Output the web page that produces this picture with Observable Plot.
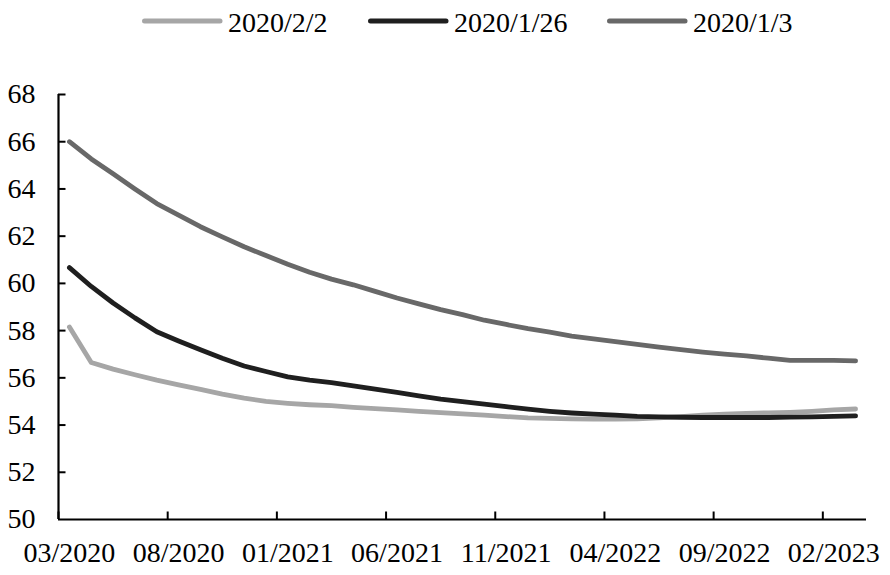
<!DOCTYPE html>
<html>
<head>
<meta charset="utf-8">
<script src="https://cdn.jsdelivr.net/npm/d3@7"></script>
<script src="https://cdn.jsdelivr.net/npm/@observablehq/plot@0.6"></script>
<style>
  html, body { margin: 0; padding: 0; background: #fff; }
  #legend { display: block; }
</style>
</head>
<body>
<div id="chart"></div>
<script>
// Categories (monthly, 03/2020 – 03/2023)
const months = [
  "03/2020","04/2020","05/2020","06/2020","07/2020","08/2020","09/2020","10/2020","11/2020","12/2020",
  "01/2021","02/2021","03/2021","04/2021","05/2021","06/2021","07/2021","08/2021","09/2021","10/2021",
  "11/2021","12/2021","01/2022","02/2022","03/2022","04/2022","05/2022","06/2022","07/2022","08/2022",
  "09/2022","10/2022","11/2022","12/2022","01/2023","02/2023","03/2023"
];
const seriesNames = ["2020/2/2", "2020/1/26", "2020/1/3"];
const s_2020_2_2 = [
  58.15,56.65,56.37,56.13,55.90,55.70,55.51,55.31,55.14,55.00,
  54.92,54.86,54.82,54.75,54.70,54.64,54.58,54.53,54.47,54.42,
  54.36,54.30,54.28,54.26,54.25,54.25,54.26,54.30,54.36,54.42,
  54.46,54.49,54.52,54.54,54.58,54.64,54.68
];
const s_2020_1_26 = [
  60.67,59.87,59.17,58.54,57.95,57.56,57.19,56.83,56.50,56.27,
  56.04,55.90,55.80,55.66,55.52,55.38,55.24,55.10,54.99,54.89,
  54.78,54.67,54.58,54.51,54.46,54.42,54.37,54.35,54.33,54.32,
  54.32,54.32,54.32,54.34,54.35,54.37,54.39
];
const s_2020_1_3 = [
  66.00,65.27,64.64,64.00,63.38,62.89,62.40,61.97,61.55,61.18,
  60.81,60.47,60.18,59.94,59.66,59.38,59.13,58.89,58.68,58.44,
  58.26,58.08,57.94,57.77,57.65,57.53,57.42,57.30,57.19,57.09,
  57.00,56.93,56.83,56.74,56.74,56.74,56.72
];
const yTicks = [50,52,54,56,58,60,62,64,66,68];
const xTickEvery = 5;
const colors = ["#a6a6a6", "#1f1f1f", "#686868"];

const allSeries = [s_2020_2_2, s_2020_1_26, s_2020_1_3];
const rows = allSeries.flatMap((vals, k) =>
  vals.map((v, i) => ({series: seriesNames[k], i: i + 0.5, month: months[i], value: v})));

const labelIdx = months.map((m, i) => i).filter(i => i % xTickEvery === 0);
const tickPos = labelIdx.map(i => i);           // ticks at category edges
const labelPos = labelIdx.map(i => i + 0.5);    // labels at category centres

const font = "'Liberation Serif', 'Times New Roman', Times, serif";

// Legend (SVG above the plot)
const legendH = 45;
const legend = d3.create("svg").attr("id", "legend").attr("width", 890).attr("height", legendH);
const legendX = [142, 368, 607];
seriesNames.forEach((name, k) => {
  const g = legend.append("g");
  g.append("line")
    .attr("x1", legendX[k] + 2.5).attr("x2", legendX[k] + 78)
    .attr("y1", 21).attr("y2", 21)
    .attr("stroke", colors[k]).attr("stroke-width", 5).attr("stroke-linecap", "round");
  g.append("text")
    .attr("x", legendX[k] + 86).attr("y", 32)
    .attr("font-family", font).attr("font-size", 28).attr("fill", "#000")
    .text(name);
});
document.getElementById("chart").appendChild(legend.node());

const ns = months.length;
const plot = Plot.plot({
  width: 890,
  height: 530,
  marginLeft: 58,
  marginRight: 24,
  marginTop: 49,
  marginBottom: 56,
  style: {fontFamily: font, fontSize: "28px", background: "#fff", color: "#000", overflow: "visible"},
  x: {type: "linear", domain: [0, ns]},
  y: {domain: [50, 68]},
  color: {domain: seriesNames, range: colors},
  marks: [
    Plot.axisY(yTicks, {tickSize: 0, tickPadding: 23, tickFormat: d => String(d), fontSize: 28, label: null}),
    Plot.axisX(labelPos, {tickSize: 0, tickPadding: 23, tickFormat: d => months[Math.round(d - 0.5)], fontSize: 28, label: null}),
    // inward tick marks
    Plot.ruleY(yTicks.filter(d => d > 50), {x1: 0, x2: 7.5 / (808 / ns), stroke: "#000", strokeWidth: 2}),
    Plot.ruleX(tickPos, {y1: 50, y2: 50 + 7.5 / (425 / 18), stroke: "#000", strokeWidth: 2}),
    // lines
    Plot.line(rows, {x: "i", y: "value", z: "series", stroke: "series", strokeWidth: 4.8,
      strokeLinecap: "round", strokeLinejoin: "round"}),
    // axis lines
    Plot.ruleX([0], {y1: 50, y2: 68, stroke: "#000", strokeWidth: 2.2}),
    Plot.ruleY([50], {x1: 0, x2: ns, stroke: "#000", strokeWidth: 2.2})
  ]
});
document.getElementById("chart").appendChild(plot);
</script>
</body>
</html>
